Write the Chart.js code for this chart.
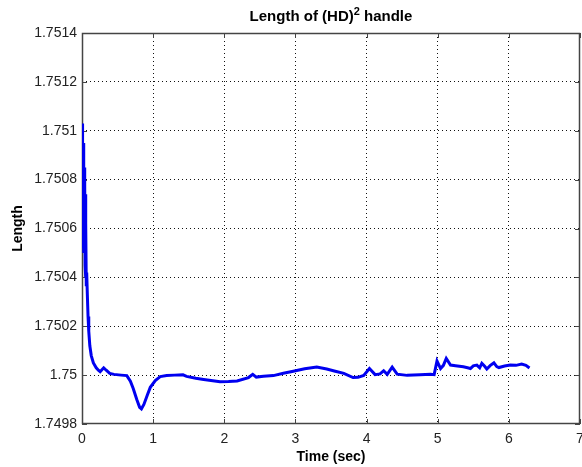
<!DOCTYPE html>
<html>
<head>
<meta charset="utf-8">
<script src="https://cdn.jsdelivr.net/npm/chart.js@4.4.1/dist/chart.umd.min.js"></script>
<style>
  body { margin: 0; background: #fff; }
  #wrap { width: 582px; height: 467px; }
</style>
</head>
<body>
<div id="wrap"><canvas id="chart" width="582" height="467"></canvas></div>
<script>
// valores
const times = [
  0.000, 0.004, 0.008, 0.012, 0.016, 0.020, 0.024, 0.028, 0.032, 0.036,
  0.040, 0.044, 0.048, 0.052, 0.056, 0.060, 0.066, 0.075, 0.085, 0.095,
  0.110, 0.130, 0.160, 0.200, 0.230,
  0.255, 0.280, 0.305, 0.340, 0.390, 0.450, 0.550, 0.630, 0.680, 0.720,
  0.770, 0.810, 0.835, 0.870, 0.920, 0.960, 1.030, 1.100, 1.190, 1.300,
  1.420, 1.470, 1.600, 1.710, 1.940, 2.060, 2.180, 2.340, 2.400, 2.450,
  2.550, 2.690, 2.830, 2.970, 3.130, 3.300, 3.440, 3.560, 3.680, 3.810,
  3.880, 3.960, 4.040, 4.120, 4.190, 4.240, 4.290, 4.360, 4.430, 4.570,
  4.750, 4.900, 4.950, 4.990, 5.040, 5.080, 5.120, 5.180, 5.250, 5.360,
  5.420, 5.460, 5.500, 5.550, 5.590, 5.620, 5.660, 5.690, 5.740, 5.790,
  5.830, 5.860, 5.940, 6.020, 6.100, 6.180, 6.240, 6.290
];
const lengths = [
  1.751030, 1.750560, 1.751000, 1.750520, 1.750950, 1.750500, 1.750900, 1.750520, 1.750850, 1.750500,
  1.750780, 1.750450, 1.750740, 1.750400, 1.750620, 1.750370, 1.750420, 1.750330, 1.750240, 1.750180,
  1.750120, 1.750080, 1.750050, 1.750030, 1.750020,
  1.750014, 1.750022, 1.750030, 1.750020, 1.750007, 1.750003, 1.750000, 1.749998, 1.749975, 1.749945,
  1.749900, 1.749868, 1.749862, 1.749880, 1.749920, 1.749950, 1.749978, 1.749994, 1.749998, 1.750000,
  1.750001, 1.749995, 1.749987, 1.749982, 1.749973, 1.749974, 1.749976, 1.749990, 1.750003, 1.749992,
  1.749995, 1.749998, 1.750008, 1.750016, 1.750026, 1.750033, 1.750025, 1.750016, 1.750007, 1.749990,
  1.749991, 1.749999, 1.750027, 1.750002, 1.750005, 1.750018, 1.750003, 1.750033, 1.750004, 1.749999,
  1.750002, 1.750004, 1.750002, 1.750058, 1.750027, 1.750040, 1.750068, 1.750041, 1.750038, 1.750034,
  1.750030, 1.750027, 1.750038, 1.750041, 1.750030, 1.750048, 1.750036, 1.750025, 1.750040, 1.750050,
  1.750035, 1.750031, 1.750037, 1.750041, 1.750040, 1.750045, 1.750040, 1.750029
];
const xTicks = [0, 1, 2, 3, 4, 5, 6, 7];
const xTickLabels = ['0', '1', '2', '3', '4', '5', '6', '7'];
const yTicks = [1.7498, 1.75, 1.7502, 1.7504, 1.7506, 1.7508, 1.751, 1.7512, 1.7514];
const yTickLabels = ['1.7498', '1.75', '1.7502', '1.7504', '1.7506', '1.7508', '1.751', '1.7512', '1.7514'];

const FONT = '"Liberation Sans", Arial, sans-serif';

const points = times.map((t, i) => ({ x: t, y: lengths[i] }));

function gridColor(ticks) {
  return ctx => (ctx.index === 0 || ctx.index === ticks.length - 1) ? 'rgba(0,0,0,0)' : '#111';
}

// caja de ejes estilo matlab con marcas hacia dentro
const boxPlugin = {
  id: 'box',
  beforeDatasetsDraw(chart) {
    const { ctx, chartArea: a, scales } = chart;
    ctx.save();
    ctx.strokeStyle = '#444';
    ctx.lineWidth = 1;
    ctx.beginPath();
    xTicks.forEach(v => {
      const px = Math.round(scales.x.getPixelForValue(v)) + 0.5;
      ctx.moveTo(px, a.bottom); ctx.lineTo(px, a.bottom - 5);
      ctx.moveTo(px, a.top); ctx.lineTo(px, a.top + 5);
    });
    yTicks.forEach(v => {
      const py = Math.round(scales.y.getPixelForValue(v)) + 0.5;
      ctx.moveTo(a.left, py); ctx.lineTo(a.left + 5, py);
      ctx.moveTo(a.right, py); ctx.lineTo(a.right - 5, py);
    });
    ctx.stroke();
    ctx.lineWidth = 1.5;
    ctx.strokeRect(a.left + 0.5, a.top + 0.5, a.right - a.left - 1, a.bottom - a.top - 1);
    ctx.restore();
  },
  afterDraw(chart) {
    // titulo con superindice
    const { ctx, chartArea: a } = chart;
    const partA = 'Length of (HD)';
    const sup = '2';
    const partB = ' handle';
    ctx.save();
    ctx.fillStyle = '#000';
    ctx.textBaseline = 'alphabetic';
    ctx.textAlign = 'left';
    const mainFont = 'bold 15px ' + FONT;
    const supFont = 'bold 11px ' + FONT;
    ctx.font = mainFont;
    const wA = ctx.measureText(partA).width;
    const wB = ctx.measureText(partB).width;
    ctx.font = supFont;
    const wS = ctx.measureText(sup).width;
    const total = wA + wS + wB;
    let x = (a.left + a.right) / 2 - total / 2;
    const base = 21;
    ctx.font = mainFont;
    ctx.fillText(partA, x, base);
    x += wA;
    ctx.font = supFont;
    ctx.fillText(sup, x, base - 6);
    x += wS;
    ctx.font = mainFont;
    ctx.fillText(partB, x, base);
    ctx.restore();
  }
};

const ctx = document.getElementById('chart').getContext('2d');
const myChart = new Chart(ctx, {
  type: 'scatter',
  data: {
    datasets: [{
      label: 'Length',
      data: points,
      showLine: true,
      borderColor: '#0000f0',
      borderWidth: 3,
      pointRadius: 0,
      tension: 0,
      fill: false
    }]
  },
  options: {
    responsive: false,
    animation: false,
    layout: { padding: { top: 33, right: 2, left: 0, bottom: 0 } },
    plugins: {
      legend: { display: false },
      tooltip: { enabled: false }
    },
    scales: {
      x: {
        type: 'linear',
        min: 0,
        max: 7,
        afterBuildTicks: s => { s.ticks = xTicks.map(v => ({ value: v })); },
        afterFit: s => { s.height = 43; s.paddingLeft = 0; s.paddingRight = 0; },
        ticks: {
          callback: (v, i) => xTickLabels[i],
          font: { family: FONT, size: 14 },
          color: '#222',
          padding: 7,
          maxRotation: 0
        },
        grid: { color: gridColor(xTicks), lineWidth: 1, drawTicks: false },
        border: { display: false, dash: [1, 3] },
        title: {
          display: true,
          text: 'Time (sec)',
          font: { family: FONT, size: 14, weight: 'bold' },
          color: '#000',
          padding: { top: 0, bottom: 1 }
        }
      },
      y: {
        type: 'linear',
        min: 1.7498,
        max: 1.7514,
        afterBuildTicks: s => { s.ticks = yTicks.map(v => ({ value: v })); },
        afterFit: s => { s.width = 82; s.paddingTop = 0; s.paddingBottom = 0; },
        ticks: {
          callback: (v, i) => yTickLabels[i],
          font: { family: FONT, size: 14 },
          color: '#222',
          padding: 5
        },
        grid: { color: gridColor(yTicks), lineWidth: 1, drawTicks: false },
        border: { display: false, dash: [1, 3] },
        title: {
          display: true,
          text: 'Length',
          font: { family: FONT, size: 14, weight: 'bold' },
          color: '#000',
          padding: { top: 10, bottom: 0 }
        }
      }
    }
  },
  plugins: [boxPlugin]
});
</script>
</body>
</html>
